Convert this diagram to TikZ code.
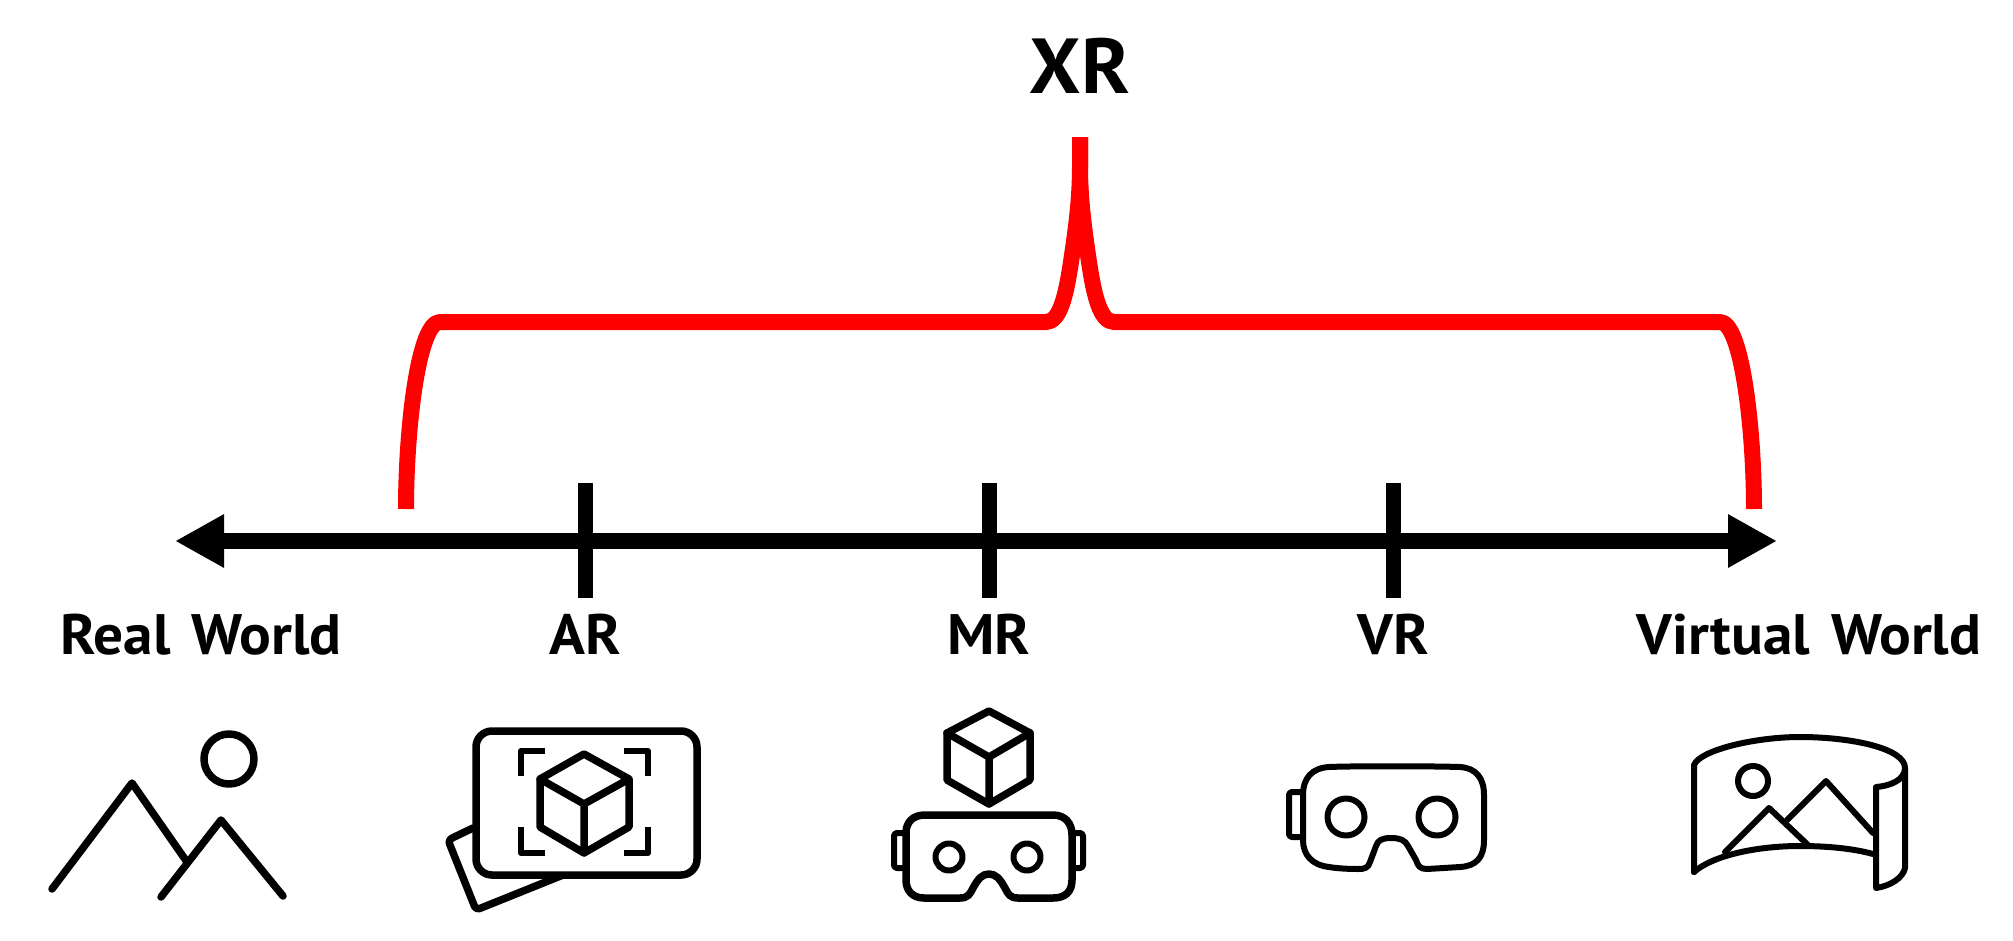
\documentclass[tikz,border=0pt]{standalone}
\usepackage{fontspec}
\setmainfont[FakeStretch=1.04,WordSpace=1.4]{PT Sans}
\usetikzlibrary{arrows.meta}
\definecolor{xrred}{HTML}{FF0000}

\begin{document}
\begin{tikzpicture}[
  x=1pt, y=-1pt,
  lbl/.style={font=\bfseries\fontsize{57}{60}\selectfont, text=black, inner sep=0pt, anchor=base},
  title/.style={font=\bfseries\fontsize{78}{80}\selectfont, text=black, inner sep=0pt, anchor=base},
  axis/.style={{Triangle[length=49pt,width=50pt]}-{Triangle[length=49pt,width=50pt]}, line width=16pt},
  tickmark/.style={line width=15pt},
  brace/.style={draw=xrred, line width=16pt, line join=round},
  icon/.style={line width=7.5pt, line cap=round, line join=round},
  iconthin/.style={line width=6pt, line cap=round, line join=round},
]
\useasboundingbox (0,0) rectangle (2013,940);

% Axis and ticks
\coordinate (axl) at (175,541);
\coordinate (axr) at (1777,541);
\draw[axis] (axl) -- (axr);
\foreach \tx/\tn in {585/ar,989/mr,1393/vr} {
  \coordinate (\tn t) at (\tx,483);
  \coordinate (\tn b) at (\tx,598);
  \draw[tickmark] (\tn t) -- (\tn b);
}

% Labels
\node[title] (xr) at (1080,93) {XR};
\node[lbl] (rw) at (201,654) {Real World};
\node[lbl] (arl) at (585,654) {AR};
\node[lbl] (mrl) at (989,654) {MR};
\node[lbl] (vrl) at (1393,654) {VR};
\node[lbl] (vw) at (1809,654) {Virtual World};

% Red brace
\coordinate (bl) at (406,509);
\coordinate (br) at (1754,509);
\coordinate (bt) at (1080,137);
\draw[brace] (bl) .. controls (406,430) and (418,322) .. (440,322)
  -- (1046,322) .. controls (1060,322) and (1066,295) .. (1071,262)
  .. controls (1076,228) and (1080,200) .. (1080,165) -- (bt);
\draw[brace] (br) .. controls (1754,430) and (1742,322) .. (1720,322)
  -- (1114,322) .. controls (1100,322) and (1094,295) .. (1089,262)
  .. controls (1084,228) and (1080,200) .. (1080,165) -- (bt);

% Real world icon
\draw[icon] (52,889) -- (132,783) -- (187,862);
\draw[icon] (161,897) -- (221,820) -- (283,896);
\draw[icon] (229,759) circle (25);

% AR icon
\draw[icon, rounded corners=4pt] (473,828) -- (448,840) -- (476,910) -- (563,875);
\draw[icon, rounded corners=16pt, fill=white] (476,731) rectangle (697,875);
\draw[iconthin, line cap=butt] (545,751) -- (521,751) -- (521,776);
\draw[iconthin, line cap=butt] (624,751) -- (648,751) -- (648,776);
\draw[iconthin, line cap=butt] (545,853) -- (521,853) -- (521,827);
\draw[iconthin, line cap=butt] (624,853) -- (648,853) -- (648,827);
\draw[icon] (584,754) -- (629,779) -- (629,827) -- (584,853) -- (540,827) -- (540,779) -- cycle;
\draw[icon] (540,779) -- (584,804) -- (629,779) (584,804) -- (584,853);

% MR icon
\draw[icon] (989,711) -- (1030,733) -- (1030,780) -- (989,804) -- (947,780) -- (947,733) -- cycle;
\draw[icon] (947,733) -- (989,757) -- (1030,733) (989,757) -- (989,804);
\draw[iconthin, rounded corners=3pt] (906,833) -- (894,833) -- (894,868) -- (906,868);
\draw[iconthin, rounded corners=3pt] (1072,833) -- (1083,833) -- (1083,868) -- (1072,868);
\draw[icon] (925,815) -- (1053,815) .. controls (1065,815) and (1072,823) .. (1072,835)
  -- (1072,880) .. controls (1072,892) and (1065,898) .. (1053,898)
  -- (1018,898) .. controls (1010,898) and (1008,894) .. (1005,888)
  .. controls (1000,879) and (996,874) .. (989,874)
  .. controls (982,874) and (978,879) .. (973,888)
  .. controls (970,894) and (968,898) .. (960,898)
  -- (924,898) .. controls (913,898) and (906,891) .. (906,880)
  -- (906,833) .. controls (906,822) and (913,815) .. (925,815) -- cycle;
\draw[iconthin] (949,857) circle (13.5);
\draw[iconthin] (1027,857) circle (13.5);

% VR icon
\draw[iconthin, rounded corners=3pt] (1303,792) -- (1289,792) -- (1289,837) -- (1303,837);
\draw[iconthin] (1329,767) .. controls (1350,766) and (1430,766) .. (1460,767)
  .. controls (1476,768) and (1484,778) .. (1484,795)
  -- (1484,840) .. controls (1484,858) and (1476,866) .. (1460,867)
  -- (1427,869) .. controls (1420,869) and (1418,866) .. (1416,860)
  -- (1408,846) .. controls (1405,840) and (1400,838) .. (1391,838)
  .. controls (1382,838) and (1378,840) .. (1376,846)
  -- (1370,862) .. controls (1368,868) and (1365,869) .. (1358,869)
  .. controls (1345,869) and (1335,868) .. (1329,867)
  .. controls (1312,865) and (1303,855) .. (1303,840)
  -- (1303,795) .. controls (1303,778) and (1312,768) .. (1329,767) -- cycle;
\draw[iconthin] (1346,817) circle (18.5);
\draw[iconthin] (1437,817) circle (18.5);

% Virtual world icon
\draw[iconthin] (1694,872) -- (1694,765) .. controls (1700,750) and (1755,737) .. (1800,737)
  .. controls (1850,737) and (1905,748) .. (1905,768) -- (1905,868)
  .. controls (1903,878) and (1890,886) .. (1876,888) -- (1876,787)
  .. controls (1890,786) and (1905,780) .. (1905,768);
\draw[iconthin] (1694,872) .. controls (1712,856) and (1755,846) .. (1800,846)
  .. controls (1830,846) and (1855,849) .. (1873,854);
\draw[iconthin] (1753,781) circle (15);
\draw[iconthin] (1725,852) -- (1769,808) -- (1808,845);
\draw[iconthin] (1787,820) -- (1826,781) -- (1873,833);
\end{tikzpicture}
\end{document}
